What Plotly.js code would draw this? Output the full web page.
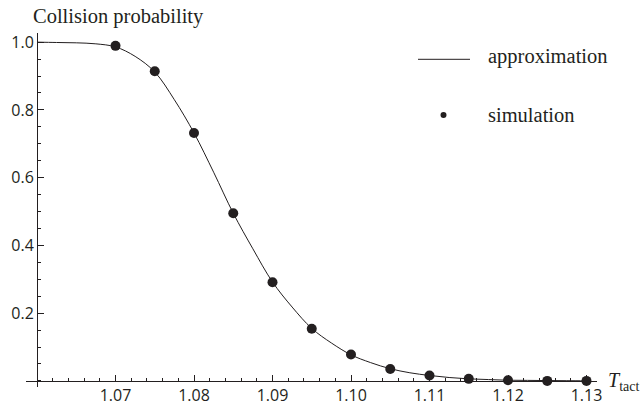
<!DOCTYPE html>
<html>
<head>
<meta charset="utf-8">
<script src="https://cdn.plot.ly/plotly-3.0.1.min.js"></script>
<style>html,body{margin:0;padding:0;background:#fff;}#chart{width:641px;height:410px;}</style>
</head>
<body>
<div id="chart"></div>
<script>
// Approximation curve
const approxX = [1.0600, 1.0625, 1.0650, 1.0675, 1.0700, 1.0725, 1.0750, 1.0775, 1.0800, 1.0825,
                 1.0850, 1.0875, 1.0900, 1.0925, 1.0950, 1.0975, 1.1000, 1.1025, 1.1050, 1.1075,
                 1.1100, 1.1125, 1.1150, 1.1175, 1.1200, 1.1225, 1.1250, 1.1275, 1.1300];
const approxY = [1.000, 0.999, 0.998, 0.995, 0.986, 0.958, 0.912, 0.830, 0.732, 0.616,
                 0.495, 0.390, 0.292, 0.218, 0.155, 0.112, 0.077, 0.054, 0.036, 0.024,
                 0.016, 0.010, 0.006, 0.004, 0.002, 0.0015, 0.001, 0.0006, 0.0003];
// Simulation points
const simX = [1.070, 1.075, 1.080, 1.085, 1.090, 1.095, 1.100, 1.105, 1.110, 1.115, 1.120, 1.125, 1.130];
const simY = [0.989, 0.914, 0.732, 0.495, 0.291, 0.154, 0.078, 0.035, 0.016, 0.006, 0.002, 0.000, 0.000];
// Tick labels
const xTickVals = [1.07, 1.08, 1.09, 1.10, 1.11, 1.12, 1.13];
const xTickText = ["1.07", "1.08", "1.09", "1.10", "1.11", "1.12", "1.13"];
const yTickVals = [0.2, 0.4, 0.6, 0.8, 1.0];
const yTickText = ["0.2", "0.4", "0.6", "0.8", "1.0"];

const W = 641, H = 410, ML = 26, MR = 44, MT = 33, MB = 23;
const PW = W - ML - MR, PH = H - MT - MB;
const px = v => (v - ML) / PW;
const py = v => (H - MB - v) / PH;

const dark = '#231f20';
const serif = 'Liberation Serif, Times New Roman, serif';
const sans = 'Open Sans, sans-serif';

const traces = [
  {x: approxX, y: approxY, type: 'scatter', mode: 'lines', name: 'approximation',
   line: {color: dark, width: 1, shape: 'spline', smoothing: 1}, hoverinfo: 'skip'},
  {x: simX, y: simY, type: 'scatter', mode: 'markers', name: 'simulation',
   marker: {color: dark, size: 10}}
];

const xr0 = 1.06 - 11 / 7850;
const xr1 = xr0 + PW / 7850;
const yr0 = -0.018, yr1 = 1.027;

const layout = {
  width: W, height: H,
  margin: {l: ML, r: MR, t: MT, b: MB, pad: 0},
  paper_bgcolor: '#fff', plot_bgcolor: '#fff',
  showlegend: false,
  xaxis: {
    range: [xr0, xr1], anchor: 'free', position: (0 - yr0) / (yr1 - yr0),
    showgrid: false, zeroline: false, showline: true, linecolor: dark, linewidth: 1,
    tickmode: 'array', tickvals: xTickVals, ticktext: xTickText,
    ticks: 'inside', ticklen: 6, tickcolor: dark, tickwidth: 1,
    tickfont: {family: sans, size: 16, color: dark},
    minor: {tickmode: 'linear', tick0: 1.06, dtick: 0.002, ticks: 'inside', ticklen: 3, tickcolor: dark, showgrid: false},
    fixedrange: true
  },
  yaxis: {
    range: [yr0, yr1], anchor: 'free', position: (1.06 - xr0) / (xr1 - xr0),
    showgrid: false, zeroline: false, showline: true, linecolor: dark, linewidth: 1,
    tickmode: 'array', tickvals: yTickVals, ticktext: yTickText,
    ticks: 'inside', ticklen: 6, tickcolor: dark, tickwidth: 1,
    tickfont: {family: sans, size: 16, color: dark},
    minor: {tickmode: 'linear', tick0: 0, dtick: 0.05, ticks: 'inside', ticklen: 3, tickcolor: dark, showgrid: false},
    fixedrange: true
  },
  shapes: [
    {type: 'line', xref: 'paper', yref: 'paper', x0: px(418), x1: px(470), y0: py(59.3), y1: py(59.3),
     line: {color: dark, width: 1}},
    {type: 'circle', xref: 'paper', yref: 'paper', xsizemode: 'pixel', ysizemode: 'pixel',
     xanchor: px(443.5), yanchor: py(115), x0: -3, x1: 3, y0: -3, y1: 3,
     fillcolor: dark, line: {color: dark, width: 0}}
  ],
  annotations: [
    {text: 'Collision probability', xref: 'paper', yref: 'paper', x: px(31), y: py(16.5),
     xanchor: 'left', yanchor: 'middle', showarrow: false,
     font: {family: serif, size: 20.5, color: dark}},
    {text: 'approximation', xref: 'paper', yref: 'paper', x: px(486), y: py(56.3),
     xanchor: 'left', yanchor: 'middle', showarrow: false,
     font: {family: serif, size: 20.5, color: dark}},
    {text: 'simulation', xref: 'paper', yref: 'paper', x: px(486), y: py(115.3),
     xanchor: 'left', yanchor: 'middle', showarrow: false,
     font: {family: serif, size: 20.5, color: dark}},
    {text: '<i>T</i><sub>tact</sub>', xref: 'paper', yref: 'paper', x: px(606), y: py(381),
     xanchor: 'left', yanchor: 'middle', showarrow: false,
     font: {family: serif, size: 20, color: dark}}
  ]
};

Plotly.newPlot('chart', traces, layout, {displayModeBar: false, staticPlot: true});
</script>
</body>
</html>
